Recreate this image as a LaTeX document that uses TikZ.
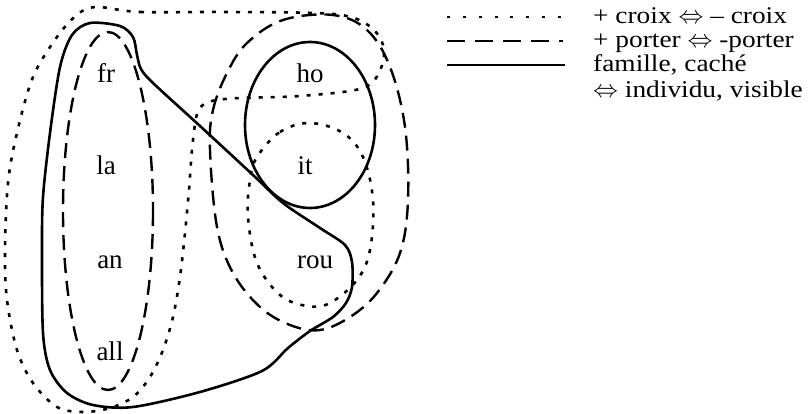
\documentclass[tikz,border=0pt]{standalone}
\usepackage{fontspec}
\setmainfont{Liberation Serif}
\newfontfamily\legfont[FakeStretch=1.14]{Liberation Serif}
\begin{document}
\begin{tikzpicture}[x=1pt,y=-1pt,
  solidline/.style={line width=2.6pt, line join=round},
  dashline/.style={line width=2.4pt, dash pattern=on 15pt off 8pt},
  dotline/.style={line width=2.6pt, dash pattern=on 4pt off 8pt},
  lbl/.style={font=\fontsize{27}{29}\selectfont, anchor=base, inner sep=0pt},
  leg/.style={font=\legfont\fontsize{24}{26}\selectfont, anchor=base west, inner sep=0pt}]
\useasboundingbox (0,0) rectangle (808,414);

% outer dotted (+ croix)
\draw[dotline] plot[smooth cycle, tension=0.55] coordinates {
 (97,7) (140,12) (230,12) (333,14) (368,25) (383,45) (381,68) (363,88)
 (300,96) (225,99) (200,108) (193,140) (189,190) (185,233) (180,277)
 (173,317) (163,350) (150,377) (133,397) (110,408) (83,412) (57,407)
 (33,383) (17,350) (7,300) (5,250) (8,183) (17,133) (33,77) (57,37) (78,14)};

% inner dotted (it, rou)
\draw[dotline] plot[smooth cycle, tension=0.6] coordinates {
 (257,157) (280,132) (310,123) (343,133) (363,157) (373,200) (370,250)
 (357,280) (330,303) (307,306) (280,295) (257,263) (248,217) (250,180)};

% left dashed ellipse
\draw[dashline] (108,211) ellipse [x radius=45, y radius=179];

% right dashed shape
\draw[dashline] plot[smooth cycle, tension=0.6] coordinates {
 (210,150) (213,110) (227,73) (247,43) (283,20) (333,15) (367,30) (390,67)
 (405,127) (408,200) (400,253) (377,293) (350,317) (320,330) (290,325)
 (260,307) (233,273) (217,227)};

% solid ellipse
\draw[solidline] (310,125) ellipse [x radius=65, y radius=83];

% big solid shape
\draw[solidline] plot[smooth cycle, tension=0.5] coordinates {
 (90,23) (120,26) (133,37) (137,55) (141,69) (153,83) (200,126) (253,175)
 (283,203) (320,228) (345,245) (352,262) (352,287) (346,303) (333,317)
 (310,331) (288,348) (262,371) (200,392) (133,407) (93,405) (67,393)
 (50,370) (43,333) (42,250) (43,197) (50,133) (60,67) (72,35)};

% labels
\node[lbl] (fr)  at (106,83)  {fr};
\node[lbl] (la)  at (106,175) {la};
\node[lbl] (an)  at (110,268) {an};
\node[lbl] (all) at (110,360) {all};
\node[lbl] (ho)  at (310,83)  {ho};
\node[lbl] (it)  at (305,175) {it};
\node[lbl] (rou) at (315,268) {rou};

% legend
\coordinate (l1a) at (447,17); \coordinate (l1b) at (561,17);
\coordinate (l2a) at (447,41); \coordinate (l2b) at (563,41);
\coordinate (l3a) at (447,65); \coordinate (l3b) at (565,65);
\draw[line width=2.6pt, dash pattern=on 3pt off 12.86pt] (l1a) -- (l1b);
\draw[line width=2.4pt, dash pattern=on 18pt off 10pt] (l2a) -- (l2b);
\draw[line width=2.4pt] (l3a) -- (l3b);
\node[leg] (t1) at (593,24) {+ croix $\Leftrightarrow$ – croix};
\node[leg] (t2) at (593,48) {+ porter $\Leftrightarrow$ -porter};
\node[leg] (t3) at (593,72) {famille, caché};
\node[leg] (t4) at (593,98) {$\Leftrightarrow$ individu, visible};
\end{tikzpicture}
\end{document}
